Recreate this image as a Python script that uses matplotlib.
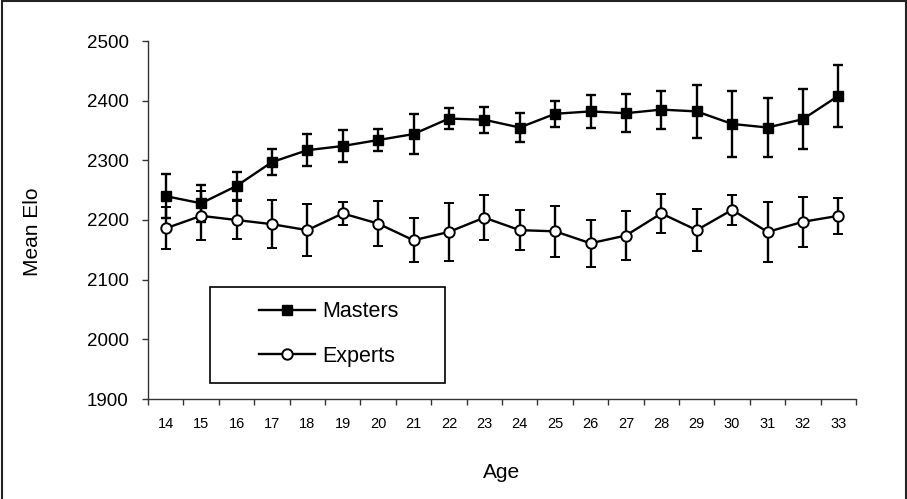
import matplotlib
matplotlib.use("Agg")
import matplotlib.pyplot as plt
from matplotlib.patches import Rectangle
from matplotlib.lines import Line2D
import numpy as np

plt.rcParams['font.family'] = ['Liberation Sans', 'DejaVu Sans']

ages = [14, 15, 16, 17, 18, 19, 20, 21, 22, 23,
        24, 25, 26, 27, 28, 29, 30, 31, 32, 33]
masters = [2240, 2228, 2257, 2297, 2317, 2324, 2334, 2344, 2370, 2368,
           2355, 2378, 2382, 2379, 2385, 2382, 2361, 2355, 2369, 2408]
masters_err = [37, 31, 24, 22, 27, 27, 18, 34, 18, 22,
               25, 22, 27, 32, 32, 45, 55, 50, 50, 52]
experts = [2186, 2207, 2200, 2193, 2183, 2211, 2194, 2166, 2180, 2204,
           2183, 2181, 2161, 2174, 2211, 2183, 2217, 2180, 2197, 2207]
experts_err = [35, 41, 32, 40, 43, 20, 38, 37, 49, 38,
               33, 43, 39, 41, 32, 35, 25, 50, 42, 30]
yticks = [1900, 2000, 2100, 2200, 2300, 2400, 2500]

fig = plt.figure(figsize=(9.07, 4.99), dpi=100)
ax = fig.add_axes([148 / 907, 1 - 399 / 499, 708 / 907, 358 / 499])

x = np.arange(len(ages))

ax.errorbar(x, masters, yerr=masters_err, color='black', lw=1.7,
            elinewidth=1.7, capsize=3.3, capthick=1.7,
            marker='s', markersize=7, markerfacecolor='black',
            markeredgecolor='black', zorder=3)
ax.errorbar(x, experts, yerr=experts_err, color='black', lw=1.7,
            elinewidth=1.7, capsize=3.3, capthick=1.7,
            marker='o', markersize=7.5, markerfacecolor='white',
            markeredgecolor='black', markeredgewidth=1.4, zorder=3)

ax.set_xlim(-0.5, len(ages) - 0.5)
ax.set_ylim(1900, 2500)
ax.set_yticks(yticks)
ax.set_yticklabels([str(v) for v in yticks], fontsize=13.5)
ax.tick_params(axis='y', direction='out', length=4, width=1,
               color='#333333', pad=10)

# category labels centred, tick marks on the boundaries
ax.set_xticks(x)
ax.set_xticklabels([str(a) for a in ages], fontsize=10.5)
ax.tick_params(axis='x', which='major', length=0, pad=13)
ax.set_xticks(np.arange(-0.5, len(ages)), minor=True)
ax.tick_params(axis='x', which='minor', direction='out', length=4,
               width=1, color='#333333')

for pos in ['top', 'right']:
    ax.spines[pos].set_visible(False)
for pos in ['left', 'bottom']:
    ax.spines[pos].set_color('#333333')
    ax.spines[pos].set_linewidth(1)

fig.text(502 / 907, 1 - 472 / 499, 'Age', fontsize=15,
         ha='center', va='center')
fig.text(32 / 907, 1 - 232 / 499, 'Mean Elo', fontsize=15,
         ha='center', va='center', rotation=90)

# legend box
fig.patches.append(Rectangle((210 / 907, 1 - 383 / 499), 235 / 907, 96 / 499,
                             transform=fig.transFigure, fill=False,
                             edgecolor='black', lw=1.2))
handles = [
    Line2D([], [], color='black', lw=1.7, marker='s', markersize=7,
           markerfacecolor='black'),
    Line2D([], [], color='black', lw=1.7, marker='o', markersize=7.5,
           markerfacecolor='white', markeredgewidth=1.4),
]
fig.legend(handles, ['Masters', 'Experts'], loc='center',
           bbox_to_anchor=(329 / 907, 1 - 334 / 499),
           frameon=False, fontsize=15.5, handlelength=2.6,
           handletextpad=0.35, labelspacing=1.1)

# outer frame
fig.patches.append(Rectangle((2 / 907, -0.05), 904 / 907, 1.05 - 1 / 499,
                             transform=fig.transFigure, fill=False,
                             edgecolor='#222222', lw=1.5))

fig.savefig('out.png', dpi=100)
